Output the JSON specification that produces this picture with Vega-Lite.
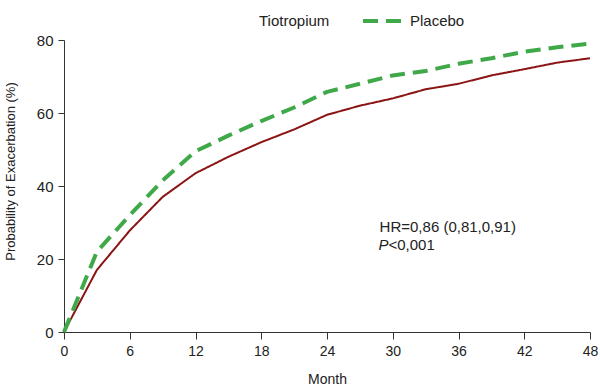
{
  "$schema": "https://vega.github.io/schema/vega-lite/v6.json",
  "width": 526,
  "height": 292,
  "autosize": {"type": "none"},
  "padding": {"left": 64, "top": 40, "right": 10, "bottom": 60},
  "background": "white",
  "config": {
    "font": "Liberation Sans",
    "view": {"stroke": null},
    "axis": {"labelFont": "Liberation Sans", "titleFont": "Liberation Sans", "labelColor": "#222", "titleColor": "#222", "domainColor": "#333", "tickColor": "#333", "titleFontWeight": "normal", "grid": false}
  },
  "layer": [
    {
      "data": {"values": [
        {"month": 0, "prob": 0, "series": "Tiotropium"},
        {"month": 3, "prob": 17, "series": "Tiotropium"},
        {"month": 6, "prob": 27.8, "series": "Tiotropium"},
        {"month": 9, "prob": 37, "series": "Tiotropium"},
        {"month": 12, "prob": 43.5, "series": "Tiotropium"},
        {"month": 15, "prob": 48, "series": "Tiotropium"},
        {"month": 18, "prob": 52, "series": "Tiotropium"},
        {"month": 21, "prob": 55.5, "series": "Tiotropium"},
        {"month": 24, "prob": 59.5, "series": "Tiotropium"},
        {"month": 27, "prob": 62, "series": "Tiotropium"},
        {"month": 30, "prob": 64, "series": "Tiotropium"},
        {"month": 33, "prob": 66.5, "series": "Tiotropium"},
        {"month": 36, "prob": 68, "series": "Tiotropium"},
        {"month": 39, "prob": 70.3, "series": "Tiotropium"},
        {"month": 42, "prob": 72, "series": "Tiotropium"},
        {"month": 45, "prob": 73.8, "series": "Tiotropium"},
        {"month": 48, "prob": 75, "series": "Tiotropium"},
        {"month": 0, "prob": 0, "series": "Placebo"},
        {"month": 3, "prob": 22, "series": "Placebo"},
        {"month": 6, "prob": 32, "series": "Placebo"},
        {"month": 9, "prob": 41.5, "series": "Placebo"},
        {"month": 12, "prob": 49.5, "series": "Placebo"},
        {"month": 15, "prob": 53.8, "series": "Placebo"},
        {"month": 18, "prob": 57.8, "series": "Placebo"},
        {"month": 21, "prob": 61.5, "series": "Placebo"},
        {"month": 24, "prob": 65.8, "series": "Placebo"},
        {"month": 27, "prob": 68, "series": "Placebo"},
        {"month": 30, "prob": 70.3, "series": "Placebo"},
        {"month": 33, "prob": 71.5, "series": "Placebo"},
        {"month": 36, "prob": 73.5, "series": "Placebo"},
        {"month": 39, "prob": 75, "series": "Placebo"},
        {"month": 42, "prob": 76.8, "series": "Placebo"},
        {"month": 45, "prob": 78, "series": "Placebo"},
        {"month": 48, "prob": 79, "series": "Placebo"}
      ]},
      "mark": {"type": "line", "interpolate": "linear", "strokeCap": "butt", "strokeJoin": "round"},
      "encoding": {
        "x": {"field": "month", "type": "quantitative", "scale": {"domain": [0, 48], "nice": false},
              "axis": {"values": [0, 6, 12, 18, 24, 30, 36, 42, 48], "title": "Month", "labelFontSize": 14, "titleFontSize": 14, "tickSize": 7, "labelPadding": 5, "titlePadding": 14, "labelFlush": false}},
        "y": {"field": "prob", "type": "quantitative", "scale": {"domain": [0, 80], "nice": false},
              "axis": {"values": [0, 20, 40, 60, 80], "title": "Probability of Exacerbation (%)", "labelFontSize": 15, "titleFontSize": 13, "tickSize": 6, "labelPadding": 5, "titlePadding": 19, "titleY": 131}},
        "color": {"field": "series", "type": "nominal",
                  "scale": {"domain": ["Tiotropium", "Placebo"], "range": ["#8b1414", "#3fa94a"]},
                  "legend": {"title": null, "orient": "none", "direction": "horizontal", "legendX": 148, "legendY": -40,
                             "labelFontSize": 15, "labelColor": "#222", "labelFont": "Liberation Sans", "symbolType": "stroke", "symbolSize": 1444,
                             "symbolStrokeWidth": 4, "labelOffset": 7, "columnPadding": 25, "padding": 0,
                             "encode": {"symbols": {"update": {"opacity": {"signal": "datum.value === 'Tiotropium' ? 0 : 1"}}}}}},
        "strokeDash": {"field": "series", "type": "nominal", "scale": {"domain": ["Tiotropium", "Placebo"], "range": [[1, 0], [15, 8]]}},
        "strokeWidth": {"field": "series", "type": "nominal", "scale": {"domain": ["Tiotropium", "Placebo"], "range": [2, 4]}}
      }
    },
    {
      "data": {"values": [{"month": 28.8, "prob": 28.8, "label": "HR=0,86 (0,81,0,91)"}]},
      "mark": {"type": "text", "align": "left", "baseline": "middle", "fontSize": 15, "font": "Liberation Sans", "color": "#222"},
      "encoding": {"x": {"field": "month", "type": "quantitative"}, "y": {"field": "prob", "type": "quantitative"}, "text": {"field": "label"}}
    },
    {
      "data": {"values": [{"month": 28.7, "prob": 23.8, "label": "P"}]},
      "mark": {"type": "text", "align": "left", "baseline": "middle", "fontSize": 15, "font": "Liberation Sans", "fontStyle": "italic", "color": "#222"},
      "encoding": {"x": {"field": "month", "type": "quantitative"}, "y": {"field": "prob", "type": "quantitative"}, "text": {"field": "label"}}
    },
    {
      "data": {"values": [{"month": 28.7, "prob": 23.8, "label": "<0,001"}]},
      "mark": {"type": "text", "align": "left", "baseline": "middle", "fontSize": 15, "font": "Liberation Sans", "color": "#222", "dx": 10},
      "encoding": {"x": {"field": "month", "type": "quantitative"}, "y": {"field": "prob", "type": "quantitative"}, "text": {"field": "label"}}
    }
  ]
}
